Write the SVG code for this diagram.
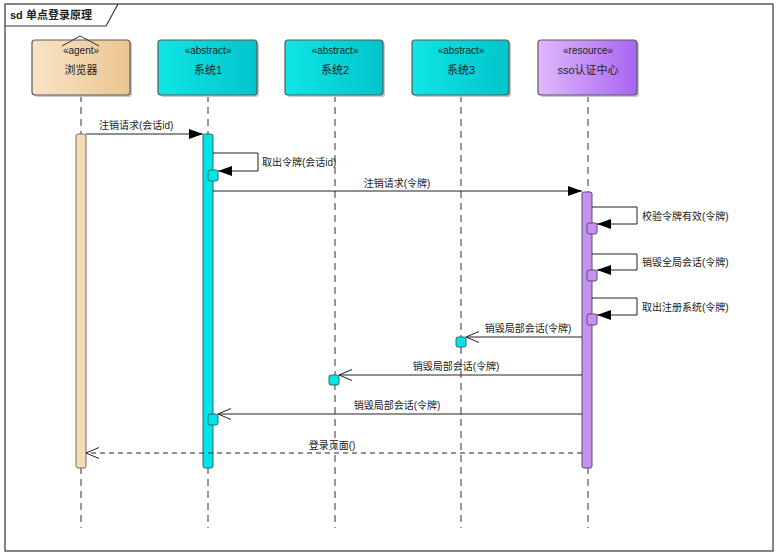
<svg xmlns="http://www.w3.org/2000/svg" width="776" height="555" viewBox="0 0 776 555">
<defs>
<linearGradient id="gAgent" x1="0" y1="0" x2="1" y2="0"><stop offset="0" stop-color="#f9e4c6"/><stop offset="1" stop-color="#eac590"/></linearGradient>
<linearGradient id="gCyan" x1="0" y1="0" x2="1" y2="0"><stop offset="0" stop-color="#10e6e6"/><stop offset="1" stop-color="#00c4cc"/></linearGradient>
<linearGradient id="gPurple" x1="0" y1="0" x2="1" y2="0"><stop offset="0" stop-color="#e0b8fc"/><stop offset="1" stop-color="#a865f2"/></linearGradient>
<marker id="filled" markerWidth="14" markerHeight="10" refX="14" refY="5" orient="auto" markerUnits="userSpaceOnUse"><path d="M0,0 L14,5 L0,10 Z" fill="#000"/></marker>
<marker id="open" markerWidth="14" markerHeight="12" refX="13" refY="6" orient="auto" markerUnits="userSpaceOnUse"><path d="M0,0.5 L13,6 L0,11.5" fill="none" stroke="#222" stroke-width="1"/></marker>
</defs>
<style>
text{font-family:"Liberation Sans","Noto Sans CJK SC",sans-serif;font-size:10px;fill:#222}
.st{font-size:10px;text-anchor:middle}
.nm{font-size:11px;text-anchor:middle}
.box{stroke:#5a5a5a;stroke-width:1.2}
.shadow{fill:#c8c8c8}
.life{stroke:#333;stroke-width:1;stroke-dasharray:7,5;fill:none}
.msg{stroke:#222;stroke-width:1;fill:none}
.ret{stroke:#222;stroke-width:1;fill:none;stroke-dasharray:5,4}
.actA{fill:#f4dcb8;stroke:#7a6a5a;stroke-width:1}
.actC{fill:#00e6e6;stroke:#2a6a70;stroke-width:1}
.actP{fill:#c493ee;stroke:#5a4a70;stroke-width:1}
</style>
<rect x="0" y="0" width="776" height="555" fill="#ffffff"/>
<g id="frame">
<rect x="5" y="4" width="768" height="547" fill="#ffffff" stroke="#333" stroke-width="1.2"/>
<path d="M5,26 L106,26 L118,4" fill="none" stroke="#333" stroke-width="1.2"/>
<text x="10" y="19" style="font-size:11px;font-weight:bold">sd 单点登录原理</text>
</g>
<g id="lifelines">
<line class="life" x1="81" y1="95" x2="81" y2="528"/>
<line class="life" x1="208" y1="95" x2="208" y2="528"/>
<line class="life" x1="335" y1="95" x2="335" y2="528"/>
<line class="life" x1="461" y1="95" x2="461" y2="528"/>
<line class="life" x1="588" y1="95" x2="588" y2="528"/>
</g>
<g id="browser">
<rect class="shadow" x="34" y="42" width="98" height="55" rx="3"/>
<rect class="box" x="32" y="40" width="98" height="55" rx="3" fill="url(#gAgent)"/>
<path d="M62,46 L80,36 L99,46" fill="none" stroke="#333" stroke-width="1"/>
<text class="st" x="81" y="54">«agent»</text>
<text class="nm" x="81" y="74">浏览器</text>
</g>
<g id="sys1">
<rect class="shadow" x="160" y="42" width="99" height="55" rx="3"/>
<rect class="box" x="158" y="40" width="99" height="55" rx="3" fill="url(#gCyan)"/>
<text class="st" x="208" y="54">«abstract»</text>
<text class="nm" x="208" y="74">系统1</text>
</g>
<g id="sys2">
<rect class="shadow" x="287" y="42" width="98" height="55" rx="3"/>
<rect class="box" x="285" y="40" width="98" height="55" rx="3" fill="url(#gCyan)"/>
<text class="st" x="335" y="54">«abstract»</text>
<text class="nm" x="335" y="74">系统2</text>
</g>
<g id="sys3">
<rect class="shadow" x="414" y="42" width="97" height="55" rx="3"/>
<rect class="box" x="412" y="40" width="97" height="55" rx="3" fill="url(#gCyan)"/>
<text class="st" x="461" y="54">«abstract»</text>
<text class="nm" x="461" y="74">系统3</text>
</g>
<g id="sso">
<rect class="shadow" x="540" y="42" width="99" height="55" rx="3"/>
<rect class="box" x="538" y="40" width="99" height="55" rx="3" fill="url(#gPurple)"/>
<text class="st" x="588" y="54">«resource»</text>
<text class="nm" x="588" y="74">sso认证中心</text>
</g>
<g id="activations">
<rect class="actA" x="76" y="134" width="10" height="334" rx="2"/>
<rect class="actC" x="203" y="134" width="10" height="334" rx="2"/>
<rect class="actP" x="582" y="192" width="10" height="276" rx="2"/>
<rect class="actC" x="208" y="170" width="10" height="11" rx="2"/>
<rect class="actP" x="587" y="223" width="10" height="11" rx="2"/>
<rect class="actP" x="587" y="270" width="10" height="11" rx="2"/>
<rect class="actP" x="587" y="314" width="10" height="11" rx="2"/>
<rect class="actC" x="456" y="337" width="10" height="10" rx="2"/>
<rect class="actC" x="329" y="375" width="10" height="10" rx="2"/>
<rect class="actC" x="208" y="414" width="10" height="11" rx="2"/>
</g>
<g id="connectors">
<line class="msg" x1="86" y1="134" x2="203" y2="134" marker-end="url(#filled)"/>
<path class="msg" d="M213,153 L258,153 L258,171 L218,171" marker-end="url(#filled)"/>
<line class="msg" x1="213" y1="191" x2="582" y2="191" marker-end="url(#filled)"/>
<path class="msg" d="M592,207 L637,207 L637,224 L597,224" marker-end="url(#filled)"/>
<path class="msg" d="M592,254 L637,254 L637,270 L597,270" marker-end="url(#filled)"/>
<path class="msg" d="M592,298 L637,298 L637,315 L597,315" marker-end="url(#filled)"/>
<line class="msg" x1="582" y1="337" x2="466" y2="337" marker-end="url(#open)"/>
<line class="msg" x1="582" y1="375" x2="339" y2="375" marker-end="url(#open)"/>
<line class="msg" x1="582" y1="414" x2="218" y2="414" marker-end="url(#open)"/>
<line class="ret" x1="582" y1="453" x2="86" y2="453" marker-end="url(#open)"/>
</g>
<g id="labels">
<text x="99" y="129">注销请求(会话id)</text>
<text x="262" y="166">取出令牌(会话id)</text>
<text x="397" y="187" text-anchor="middle">注销请求(令牌)</text>
<text x="642" y="220">校验令牌有效(令牌)</text>
<text x="642" y="266">销毁全局会话(令牌)</text>
<text x="642" y="311">取出注册系统(令牌)</text>
<text x="528" y="332" text-anchor="middle">销毁局部会话(令牌)</text>
<text x="456" y="370" text-anchor="middle">销毁局部会话(令牌)</text>
<text x="397" y="409" text-anchor="middle">销毁局部会话(令牌)</text>
<text x="332" y="449" text-anchor="middle">登录页面()</text>
</g>
</svg>
